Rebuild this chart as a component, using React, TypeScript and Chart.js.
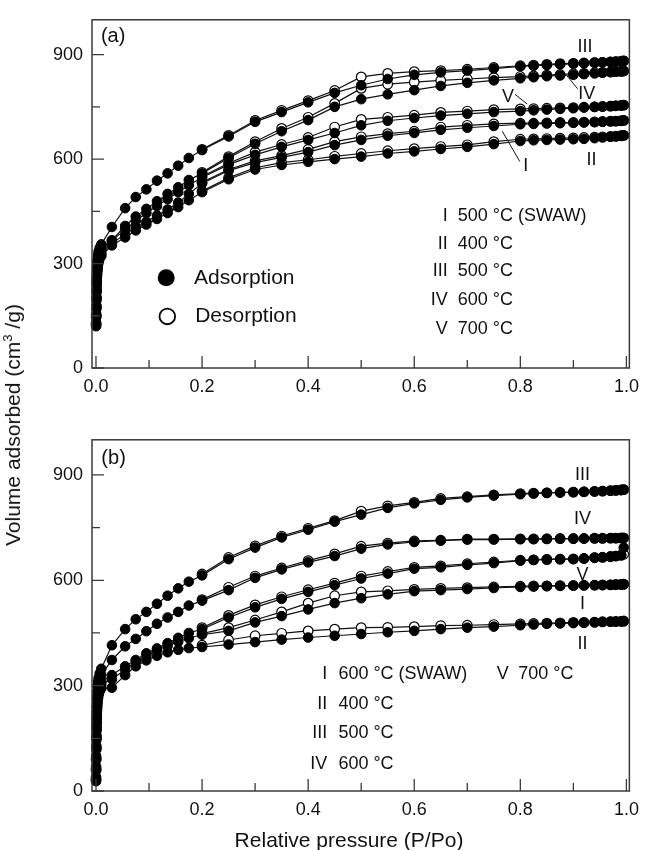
import React, { useEffect, useRef } from "react";
import { Chart, registerables } from "chart.js";
Chart.register(...registerables);

const FONT = "'Liberation Sans', Arial, Helvetica, sans-serif";

// ---------- axes ----------
const X_LABELED = [0, 0.2, 0.4, 0.6, 0.8, 1.0];
const X_MINOR = [0.1, 0.3, 0.5, 0.7, 0.9];
const Y_LABELED = [0, 300, 600, 900];
const Y_MINOR = [150, 450, 750];

// ---------- shared relative pressures ----------
const ADS_P = [0.03, 0.055, 0.075, 0.095, 0.115, 0.135, 0.155, 0.175, 0.2, 0.25, 0.3, 0.35, 0.4, 0.45, 0.5, 0.55, 0.6, 0.65, 0.7, 0.75, 0.8, 0.825, 0.85, 0.875, 0.9, 0.92, 0.94, 0.955, 0.97, 0.98, 0.99, 0.995];
const DES_P = [0.995, 0.99, 0.98, 0.97, 0.955, 0.94, 0.92, 0.9, 0.875, 0.85, 0.825, 0.8, 0.75, 0.7, 0.65, 0.6, 0.55, 0.5, 0.45, 0.4, 0.35, 0.3, 0.25, 0.2];

// ---------- panel (a) ----------
const A_P_LOW = [0.0002, 0.0004, 0.0006, 0.0008, 0.001, 0.0013, 0.0016, 0.002, 0.0025, 0.003, 0.004, 0.005, 0.007, 0.01];
const A_III_LOW = [120, 145, 170, 195, 220, 245, 265, 285, 300, 312, 325, 335, 345, 355];
const A_IV_LOW = [125, 150, 175, 200, 225, 245, 262, 278, 292, 303, 315, 325, 335, 345];
const A_V_LOW = [130, 155, 180, 205, 225, 245, 260, 275, 288, 298, 308, 316, 325, 332];
const A_I_LOW = [128, 152, 178, 200, 222, 240, 256, 270, 282, 292, 302, 310, 318, 326];
const A_II_LOW = [122, 148, 172, 196, 218, 236, 252, 266, 278, 288, 298, 306, 314, 322];

const A_III_ADS = [405, 459, 491, 513, 538, 559, 581, 603, 626, 665, 707, 735, 763, 790, 812, 830, 842, 849, 854, 860, 866, 868, 870, 872, 874, 875, 877, 878, 879, 880, 881, 882];
const A_IV_ADS = [367, 408, 435, 457, 479, 500, 519, 540, 559, 603, 644, 680, 712, 750, 772, 786, 798, 810, 819, 826, 832, 835, 838, 840, 842, 844, 846, 848, 850, 851, 852, 853];
const A_V_ADS = [365, 398, 422, 445, 465, 485, 505, 525, 547, 584, 612, 635, 655, 675, 697, 710, 718, 725, 730, 735, 738, 740, 742, 744, 746, 748, 750, 751, 752, 753, 754, 755];
const A_I_ADS = [358, 384, 404, 420, 438, 455, 475, 500, 530, 567, 590, 605, 620, 640, 655, 667, 675, 684, 690, 695, 700, 701, 702, 703, 704, 705, 706, 707, 708, 709, 710, 711];
const A_II_ADS = [352, 375, 395, 412, 428, 445, 462, 482, 505, 542, 570, 583, 592, 600, 607, 616, 622, 629, 635, 643, 652, 654, 655, 656, 657, 658, 660, 662, 664, 665, 667, 668];

const A_III_DES = [882, 881, 880, 879, 878, 877, 876, 875, 874, 872, 870, 868, 863, 858, 854, 851, 846, 836, 797, 768, 740, 711, 668, 628];
const A_IV_DES = [853, 852, 851, 850, 849, 848, 846, 845, 843, 841, 839, 837, 834, 830, 826, 821, 815, 803, 760, 720, 688, 650, 607, 562];
const A_V_DES = [755, 754, 753, 752, 751, 750, 749, 748, 747, 746, 745, 744, 742, 738, 734, 726, 720, 714, 692, 662, 642, 620, 588, 550];
const A_I_DES = [711, 710, 709, 709, 708, 707, 706, 705, 705, 704, 703, 703, 701, 697, 692, 680, 673, 664, 650, 628, 610, 595, 570, 533];
const A_II_DES = [668, 667, 666, 665, 664, 663, 662, 661, 660, 659, 658, 657, 650, 641, 636, 630, 624, 616, 608, 598, 590, 575, 546, 508];

// ---------- panel (b) ----------
const B_P_LOW = [0.0001, 0.0002, 0.0003, 0.0005, 0.0007, 0.001, 0.0013, 0.0016, 0.002, 0.0025, 0.003, 0.004, 0.005, 0.007, 0.01];
const B_III_LOW = [40, 70, 100, 130, 160, 190, 215, 240, 262, 282, 298, 312, 322, 335, 348];
const B_IV_LOW = [30, 60, 90, 120, 150, 180, 205, 228, 250, 268, 283, 296, 306, 318, 330];
const B_V_LOW = [35, 65, 95, 125, 155, 182, 205, 225, 243, 258, 270, 282, 292, 302, 312];
const B_I_LOW = [32, 62, 92, 122, 150, 176, 198, 218, 235, 250, 262, 274, 284, 294, 303];
const B_II_LOW = [28, 58, 88, 118, 146, 172, 194, 212, 228, 242, 254, 265, 274, 284, 292];

const B_III_ADS = [415, 461, 489, 510, 533, 556, 577, 596, 614, 660, 693, 722, 744, 767, 787, 806, 819, 829, 836, 841, 845, 847, 849, 850, 851, 852, 853, 854, 855, 856, 857, 858];
const B_IV_ADS = [373, 412, 433, 455, 476, 494, 510, 528, 542, 572, 607, 631, 651, 669, 690, 702, 709, 713, 716, 716, 717, 717, 718, 718, 718, 719, 719, 719, 720, 720, 720, 720];
const B_V_ADS = [330, 355, 373, 392, 406, 421, 436, 450, 461, 494, 523, 547, 567, 586, 605, 619, 633, 637, 644, 649, 656, 658, 660, 660, 660, 662, 665, 666, 668, 669, 672, 693];
const B_I_ADS = [318, 345, 369, 385, 401, 413, 425, 435, 445, 456, 480, 498, 517, 535, 549, 560, 569, 572, 575, 578, 581, 582, 583, 584, 585, 585, 586, 586, 587, 587, 588, 588];
const B_II_ADS = [294, 330, 355, 372, 385, 395, 402, 407, 410, 417, 424, 431, 437, 442, 447, 452, 456, 461, 465, 468, 472, 474, 476, 477, 478, 479, 480, 481, 482, 482, 483, 483];

const B_III_DES = [858, 857, 856, 855, 854, 853, 852, 851, 850, 849, 848, 847, 843, 838, 833, 822, 812, 797, 770, 748, 726, 698, 665, 618];
const B_IV_DES = [721, 721, 720, 720, 720, 720, 719, 719, 719, 718, 718, 718, 717, 717, 714, 712, 706, 697, 675, 656, 635, 612, 580, 545];
const B_V_DES = [674, 671, 669, 667, 665, 664, 662, 661, 660, 659, 658, 657, 652, 647, 641, 637, 625, 612, 592, 573, 553, 530, 500, 465];
const B_I_DES = [589, 588, 588, 587, 587, 586, 586, 585, 585, 584, 584, 583, 581, 579, 577, 574, 570, 567, 556, 535, 510, 487, 465, 448];
const B_II_DES = [484, 483, 483, 482, 482, 481, 480, 480, 479, 478, 477, 476, 474, 472, 471, 468, 466, 465, 461, 456, 449, 442, 430, 415];

// ---------- annotation texts ----------
const A_NUMERALS = ["I", "II", "III", "IV", "V"];
const A_TEMPS = ["500 °C (SWAW)", "400 °C", "500 °C", "600 °C", "700 °C"];
const A_ROWS = [437, 357, 278, 194, 111];
const B_NUMERALS = ["I", "II", "III", "IV"];
const B_TEMPS = ["600 °C (SWAW)", "400 °C", "500 °C", "600 °C"];
const B_ROWS = [333, 248, 165, 77];

type Txt = { text: string; x: number; y: number; align?: CanvasTextAlign; size?: number };
type Seg = { x1: number; y1: number; x2: number; y2: number };
type Deco = { texts: Txt[]; segs: Seg[]; legend: boolean };

const pts = (P: number[], V: number[]) => P.map((x, i) => ({ x, y: V[i] }));

function adsSet(P: number[], V: number[]) {
  return {
    data: pts(P, V),
    showLine: true,
    borderColor: "#111",
    borderWidth: 1.2,
    pointRadius: 4.8,
    pointHoverRadius: 4.8,
    pointBackgroundColor: "#000",
    pointBorderColor: "#000",
    pointBorderWidth: 1,
    clip: false,
  };
}
function desSet(P: number[], V: number[]) {
  return {
    data: pts(P, V),
    showLine: true,
    borderColor: "#111",
    borderWidth: 1.2,
    pointRadius: 4.8,
    pointHoverRadius: 4.8,
    pointBackgroundColor: "#fff",
    pointBorderColor: "#000",
    pointBorderWidth: 1.2,
    clip: false,
  };
}

function makeDeco(deco: Deco) {
  return {
    id: "deco",
    afterDraw(chart: any) {
      const { ctx, chartArea: a, scales } = chart;
      const xs = scales.x;
      const ys = scales.y;
      ctx.save();
      ctx.strokeStyle = "#3a3a3a";
      ctx.lineWidth = 1.5;
      ctx.strokeRect(a.left, a.top, a.right - a.left, a.bottom - a.top);
      ctx.lineWidth = 1.3;
      ctx.beginPath();
      X_LABELED.forEach((v) => {
        const p = xs.getPixelForValue(v);
        ctx.moveTo(p, a.bottom);
        ctx.lineTo(p, a.bottom - 12);
      });
      X_MINOR.forEach((v) => {
        const p = xs.getPixelForValue(v);
        ctx.moveTo(p, a.bottom);
        ctx.lineTo(p, a.bottom - 8);
      });
      Y_LABELED.forEach((v) => {
        const p = ys.getPixelForValue(v);
        ctx.moveTo(a.left, p);
        ctx.lineTo(a.left + 12, p);
      });
      Y_MINOR.forEach((v) => {
        const p = ys.getPixelForValue(v);
        ctx.moveTo(a.left, p);
        ctx.lineTo(a.left + 8, p);
      });
      ctx.stroke();

      ctx.strokeStyle = "#111";
      ctx.lineWidth = 1;
      ctx.beginPath();
      deco.segs.forEach((s) => {
        ctx.moveTo(xs.getPixelForValue(s.x1), ys.getPixelForValue(s.y1));
        ctx.lineTo(xs.getPixelForValue(s.x2), ys.getPixelForValue(s.y2));
      });
      ctx.stroke();

      ctx.fillStyle = "#111";
      ctx.textBaseline = "middle";
      deco.texts.forEach((t) => {
        ctx.font = `${t.size || 18}px ${FONT}`;
        ctx.textAlign = t.align || "center";
        ctx.fillText(t.text, xs.getPixelForValue(t.x), ys.getPixelForValue(t.y));
      });

      if (deco.legend) {
        const cx1 = xs.getPixelForValue(0.1324);
        const cy1 = ys.getPixelForValue(259);
        ctx.fillStyle = "#000";
        ctx.beginPath();
        ctx.arc(cx1, cy1, 8.5, 0, Math.PI * 2);
        ctx.fill();
        const cx2 = xs.getPixelForValue(0.1345);
        const cy2 = ys.getPixelForValue(148);
        ctx.strokeStyle = "#000";
        ctx.lineWidth = 1.8;
        ctx.beginPath();
        ctx.arc(cx2, cy2, 7.8, 0, Math.PI * 2);
        ctx.stroke();
        ctx.fillStyle = "#111";
        ctx.font = `21px ${FONT}`;
        ctx.textAlign = "left";
        ctx.fillText("Adsorption", xs.getPixelForValue(0.185), cy1);
        ctx.fillText("Desorption", xs.getPixelForValue(0.187), cy2);
      }
      ctx.restore();
    },
  };
}

function buildConfig(datasets: any[], padTop: number, padBottom: number, deco: Deco) {
  return {
    type: "scatter",
    data: { datasets },
    options: {
      animation: false,
      responsive: false,
      maintainAspectRatio: false,
      events: [],
      layout: { padding: { left: 0, right: 14, top: padTop, bottom: padBottom } },
      plugins: { legend: { display: false }, tooltip: { enabled: false } },
      scales: {
        x: {
          type: "linear",
          min: -0.0075,
          max: 1.0056,
          grid: { display: false, drawTicks: false },
          border: { display: false },
          afterBuildTicks: (s: any) => {
            s.ticks = X_LABELED.map((v) => ({ value: v }));
          },
          afterFit: (s: any) => {
            s.height = 30;
          },
          ticks: {
            padding: 8,
            autoSkip: false,
            maxRotation: 0,
            color: "#111",
            font: { family: FONT, size: 18 },
            callback: (v: any) => Number(v).toFixed(1),
          },
        },
        y: {
          type: "linear",
          min: 0,
          max: 1000,
          grid: { display: false, drawTicks: false },
          border: { display: false },
          afterBuildTicks: (s: any) => {
            s.ticks = Y_LABELED.map((v) => ({ value: v }));
          },
          afterFit: (s: any) => {
            s.width = 92;
          },
          ticks: {
            padding: 9,
            autoSkip: false,
            color: "#111",
            font: { family: FONT, size: 18 },
            callback: (v: any) => String(v),
          },
        },
      },
    },
    plugins: [makeDeco(deco)],
  };
}

const decoA: Deco = {
  legend: true,
  texts: [
    { text: "(a)", x: 0.0324, y: 951, size: 20 },
    ...A_NUMERALS.map((t, i) => ({ text: t, x: 0.663, y: A_ROWS[i], align: "right" as CanvasTextAlign })),
    ...A_TEMPS.map((t, i) => ({ text: t, x: 0.682, y: A_ROWS[i], align: "left" as CanvasTextAlign })),
    { text: "III", x: 0.922, y: 923 },
    { text: "IV", x: 0.925, y: 788 },
    { text: "V", x: 0.777, y: 779 },
    { text: "I", x: 0.81, y: 579 },
    { text: "II", x: 0.934, y: 598 },
  ],
  segs: [
    { x1: 0.888, y1: 839, x2: 0.908, y2: 802 },
    { x1: 0.79, y1: 786, x2: 0.813, y2: 758 },
    { x1: 0.766, y1: 680, x2: 0.799, y2: 593 },
  ],
};

const decoB: Deco = {
  legend: false,
  texts: [
    { text: "(b)", x: 0.0332, y: 947, size: 20 },
    ...B_NUMERALS.map((t, i) => ({ text: t, x: 0.436, y: B_ROWS[i], align: "right" as CanvasTextAlign })),
    ...B_TEMPS.map((t, i) => ({ text: t, x: 0.457, y: B_ROWS[i], align: "left" as CanvasTextAlign })),
    { text: "V", x: 0.778, y: B_ROWS[0], align: "right" },
    { text: "700 °C", x: 0.796, y: B_ROWS[0], align: "left" },
    { text: "III", x: 0.917, y: 901 },
    { text: "IV", x: 0.917, y: 773 },
    { text: "V", x: 0.917, y: 614 },
    { text: "I", x: 0.917, y: 531 },
    { text: "II", x: 0.917, y: 419 },
  ],
  segs: [],
};

// Chart.js paints dataset 0 last (on top): adsorption first so filled circles sit above open ones.
function datasetsA() {
  return [
    adsSet([...A_P_LOW, ...ADS_P], [...A_III_LOW, ...A_III_ADS]),
    adsSet([...A_P_LOW, ...ADS_P], [...A_IV_LOW, ...A_IV_ADS]),
    adsSet([...A_P_LOW, ...ADS_P], [...A_V_LOW, ...A_V_ADS]),
    adsSet([...A_P_LOW, ...ADS_P], [...A_I_LOW, ...A_I_ADS]),
    adsSet([...A_P_LOW, ...ADS_P], [...A_II_LOW, ...A_II_ADS]),
    desSet(DES_P, A_III_DES), desSet(DES_P, A_IV_DES), desSet(DES_P, A_V_DES), desSet(DES_P, A_I_DES), desSet(DES_P, A_II_DES),
  ];
}
function datasetsB() {
  return [
    adsSet([...B_P_LOW, ...ADS_P], [...B_III_LOW, ...B_III_ADS]),
    adsSet([...B_P_LOW, ...ADS_P], [...B_IV_LOW, ...B_IV_ADS]),
    adsSet([...B_P_LOW, ...ADS_P], [...B_V_LOW, ...B_V_ADS]),
    adsSet([...B_P_LOW, ...ADS_P], [...B_I_LOW, ...B_I_ADS]),
    adsSet([...B_P_LOW, ...ADS_P], [...B_II_LOW, ...B_II_ADS]),
    desSet(DES_P, B_III_DES), desSet(DES_P, B_IV_DES), desSet(DES_P, B_V_DES), desSet(DES_P, B_I_DES), desSet(DES_P, B_II_DES),
  ];
}

export default function App() {
  const refA = useRef<HTMLCanvasElement>(null);
  const refB = useRef<HTMLCanvasElement>(null);

  useEffect(() => {
    const ca = new Chart(refA.current as HTMLCanvasElement, buildConfig(datasetsA(), 9, 2, decoA) as any);
    const cb = new Chart(refB.current as HTMLCanvasElement, buildConfig(datasetsB(), 12, 9, decoB) as any);
    return () => {
      ca.destroy();
      cb.destroy();
    };
  }, []);

  return (
    <div style={{ position: "absolute", left: 0, top: 0, width: 647, height: 850, background: "#fff", overflow: "hidden" }}>
      <canvas ref={refA} width={647} height={400} style={{ position: "absolute", left: 0, top: 0, width: 647, height: 400 }} />
      <canvas ref={refB} width={647} height={410} style={{ position: "absolute", left: 0, top: 420, width: 647, height: 410 }} />
      <div
        style={{
          position: "absolute",
          left: 13,
          top: 425,
          transform: "translate(-50%, -50%) rotate(-90deg)",
          whiteSpace: "nowrap",
          font: `21px ${FONT}`,
          color: "#111",
          lineHeight: "24px",
        }}
      >
        Volume adsorbed (cm<sup style={{ fontSize: "0.62em", lineHeight: 0 }}>3</sup> /g)
      </div>
      <div
        style={{
          position: "absolute",
          left: 349,
          top: 840,
          transform: "translate(-50%, -50%)",
          whiteSpace: "nowrap",
          font: `21px ${FONT}`,
          color: "#111",
          lineHeight: "24px",
        }}
      >
        Relative pressure (P/Po)
      </div>
    </div>
  );
}
